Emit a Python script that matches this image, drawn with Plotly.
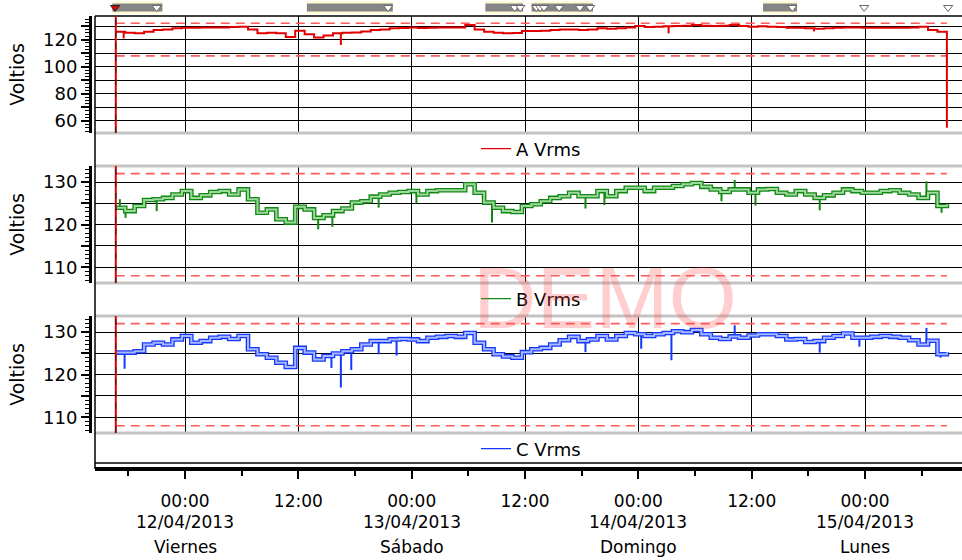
import pandas as pd
import plotly.graph_objects as go

# ---------------- data ----------------
times = list(pd.date_range("2013-04-11 16:40", periods=88, freq="h")) + [pd.Timestamp("2013-04-15 08:40")]

a_vrms = [125.8, 125.0, 124.6, 125.8, 127.0, 127.5, 128.3, 128.8, 128.8, 129.0,
          129.0, 129.0, 129.3, 129.5, 127.5, 124.6, 125.0, 124.6, 122.0, 126.5,
          124.0, 121.6, 123.0, 124.6, 125.0, 125.3, 126.0, 127.0, 127.5, 128.3,
          128.6, 129.0, 128.5, 128.8, 129.0, 129.0, 129.0, 130.7, 127.5, 125.8,
          125.0, 124.6, 124.8, 126.3, 126.3, 126.5, 127.0, 127.5, 127.5, 127.0,
          127.5, 128.3, 128.0, 128.3, 129.0, 130.0, 129.3, 129.5, 129.8, 130.0,
          130.3, 130.7, 130.2, 130.0, 130.2, 130.7, 130.0, 129.5, 129.8, 129.5,
          129.2, 128.8, 128.8, 128.3, 128.0, 128.3, 128.8, 129.0, 129.0, 128.8,
          128.8, 128.8, 128.8, 128.8, 129.0, 129.5, 127.0, 125.8, 55.0]

b_vrms = [124.0, 123.2, 124.4, 125.8, 126.0, 126.3, 127.1, 127.9, 126.3, 126.9,
          127.7, 127.9, 127.1, 128.3, 126.0, 122.8, 123.6, 121.3, 120.5, 124.2,
          123.6, 121.6, 122.2, 123.2, 123.8, 125.2, 125.5, 126.6, 127.1, 127.5,
          127.7, 127.9, 127.1, 127.9, 128.1, 128.1, 128.1, 129.5, 127.5, 125.2,
          124.0, 123.2, 123.0, 124.4, 124.8, 125.5, 126.3, 126.7, 127.5, 126.7,
          126.7, 127.9, 126.7, 127.9, 128.7, 128.7, 127.9, 128.7, 128.7, 129.1,
          129.5, 129.8, 128.9, 128.3, 127.7, 128.3, 128.3, 127.5, 128.3, 128.4,
          127.5, 127.1, 127.9, 127.1, 126.3, 126.9, 127.5, 128.3, 127.9, 127.5,
          127.5, 127.9, 128.1, 127.5, 127.1, 126.3, 127.5, 124.4, 124.8]

c_vrms = [125.2, 125.2, 125.5, 127.1, 127.5, 127.1, 128.3, 129.1, 127.5, 127.9,
          128.7, 128.9, 128.4, 129.1, 126.0, 124.8, 124.0, 122.8, 121.8, 126.3,
          125.2, 123.6, 124.4, 125.0, 125.5, 126.0, 127.1, 127.9, 127.9, 128.3,
          128.4, 128.3, 127.9, 128.7, 128.9, 129.1, 128.9, 129.8, 127.5, 126.0,
          124.8, 124.3, 124.0, 125.3, 126.0, 126.3, 127.1, 128.1, 128.9, 127.9,
          128.3, 129.1, 128.3, 129.1, 129.8, 129.5, 129.1, 129.5, 129.8, 130.2,
          130.0, 130.5, 129.5, 128.7, 128.4, 129.0, 128.7, 129.2, 129.5, 129.5,
          129.1, 128.3, 128.4, 127.7, 127.9, 128.7, 129.1, 129.7, 128.7, 128.7,
          128.9, 129.1, 128.9, 128.7, 128.1, 127.1, 128.0, 124.8, 125.3]

a_spike_t = ["2013-04-11 17:30", "2013-04-12 16:30", "2013-04-14 03:12", "2013-04-14 18:36"]
a_spike_v = [120.9, 116.0, 124.6, 126.0]

b_spike_t = ["2013-04-11 17:06", "2013-04-11 17:42", "2013-04-11 21:00", "2013-04-12 14:06",
             "2013-04-12 15:36", "2013-04-12 20:30", "2013-04-13 00:30", "2013-04-13 08:30",
             "2013-04-13 18:24", "2013-04-13 20:24", "2013-04-14 08:48", "2013-04-14 10:12",
             "2013-04-14 12:24", "2013-04-14 19:12", "2013-04-15 06:30", "2013-04-15 08:06"]
b_spike_v = [126.0, 121.6, 123.2, 118.9, 119.5, 124.0, 125.0, 120.5,
             123.8, 124.6, 125.5, 130.5, 124.5, 123.4, 130.2, 122.8]

c_spike_t = ["2013-04-11 17:36", "2013-04-12 15:30", "2013-04-12 16:30", "2013-04-12 17:36",
             "2013-04-12 20:30", "2013-04-12 22:24", "2013-04-13 18:24", "2013-04-14 00:18",
             "2013-04-14 03:30", "2013-04-14 10:12", "2013-04-14 19:12", "2013-04-14 23:24",
             "2013-04-15 06:30", "2013-04-15 08:00"]
c_spike_v = [121.4, 121.6, 117.0, 121.1, 124.8, 124.5, 125.3, 126.1,
             123.4, 131.6, 125.2, 126.6, 131.0, 124.0]

limit_high = 132
limit_low = 108

event_start = ["2013-04-11 16:18", "2013-04-12 12:54", "2013-04-13 07:48", "2013-04-13 12:42", "2013-04-14 13:12"]
event_end = ["2013-04-11 21:36", "2013-04-12 22:00", "2013-04-13 11:48", "2013-04-13 19:12", "2013-04-14 16:48"]
flag_times = ["2013-04-11 21:00", "2013-04-12 21:30", "2013-04-13 10:54", "2013-04-13 11:30",
              "2013-04-13 13:12", "2013-04-13 13:36", "2013-04-13 14:00", "2013-04-13 15:36",
              "2013-04-13 17:48", "2013-04-13 18:54", "2013-04-14 16:18", "2013-04-14 23:54",
              "2013-04-15 08:48"]
first_flag = ["2013-04-11 16:36"]

day_ticks = ["2013-04-12", "2013-04-13", "2013-04-14", "2013-04-15"]
day_dates = ["12/04/2013", "13/04/2013", "14/04/2013", "15/04/2013"]
day_names = ["Viernes", "Sábado", "Domingo", "Lunes"]

x_range = ["2013-04-11 14:28", "2013-04-15 10:16"]

# ---------------- helpers ----------------
W, H = 962, 560
def py(p):
    return 1 - p / H
def px(p):
    return p / W

FONT = "DejaVu Sans"

def spike_xy(st, sv, series):
    xs, ys = [], []
    for t, v in zip(st, sv):
        tt = pd.Timestamp(t)
        idx = max(i for i, T in enumerate(times) if T <= tt)
        xs += [tt, tt, None]
        ys += [series[idx], v, None]
    return xs, ys

fig = go.Figure()

panels = [
    ("A Vrms", a_vrms, a_spike_t, a_spike_v, "#e00000", None, "x", "y", "legend"),
    ("B Vrms", b_vrms, b_spike_t, b_spike_v, "#118811", "#9fd89f", "x2", "y2", "legend2"),
    ("C Vrms", c_vrms, c_spike_t, c_spike_v, "#1438ff", "#a8b8ff", "x3", "y3", "legend3"),
]

for name, vals, st, sv, col, light, xa, ya, lg in panels:
    for lim in (limit_high, limit_low):
        fig.add_trace(go.Scatter(x=[times[0], times[-1]], y=[lim, lim], mode="lines",
                                 line=dict(color="#ff5a5a", width=1.6, dash="9px,6px"),
                                 showlegend=False, hoverinfo="skip", xaxis=xa, yaxis=ya))
    sx, sy = spike_xy(st, sv, vals)
    if light is None:
        fig.add_trace(go.Scatter(x=times, y=vals, mode="lines", line=dict(color=col, width=2, shape="hv"),
                                 showlegend=False, xaxis=xa, yaxis=ya))
        fig.add_trace(go.Scatter(x=sx, y=sy, mode="lines", line=dict(color=col, width=2),
                                 showlegend=False, xaxis=xa, yaxis=ya))
    else:
        fig.add_trace(go.Scatter(x=times, y=vals, mode="lines", line=dict(color=col, width=4.6, shape="hv"),
                                 showlegend=False, xaxis=xa, yaxis=ya))
        fig.add_trace(go.Scatter(x=sx, y=sy, mode="lines", line=dict(color=col, width=2),
                                 showlegend=False, xaxis=xa, yaxis=ya))
        fig.add_trace(go.Scatter(x=times, y=vals, mode="lines", line=dict(color=light, width=2.0, shape="hv"),
                                 showlegend=False, xaxis=xa, yaxis=ya))
    fig.add_trace(go.Scatter(x=[None], y=[None], mode="lines", name=name,
                             line=dict(color=col, width=1.2), legend=lg, xaxis=xa, yaxis=ya))

# event strip
ev_x = sum([[s, e, None] for s, e in zip(event_start, event_end)], [])
ev_y = sum([[0.5, 0.5, None] for _ in event_start], [])
fig.add_trace(go.Scatter(x=ev_x, y=ev_y, mode="lines", line=dict(color="#fffbd2", width=13),
                         showlegend=False, hoverinfo="skip", xaxis="x4", yaxis="y4"))
fig.add_trace(go.Scatter(x=ev_x, y=ev_y, mode="lines", line=dict(color="#858585", width=8),
                         showlegend=False, hoverinfo="skip", xaxis="x4", yaxis="y4"))
fig.add_trace(go.Scatter(x=flag_times, y=[0.5] * len(flag_times), mode="markers",
                         marker=dict(symbol="triangle-down", size=8, color="white",
                                     line=dict(color="#6a6a6a", width=1)),
                         showlegend=False, xaxis="x4", yaxis="y4"))
fig.add_trace(go.Scatter(x=first_flag, y=[0.5], mode="markers",
                         marker=dict(symbol="triangle-down", size=8, color="#e00000",
                                     line=dict(color="#222222", width=1)),
                         showlegend=False, xaxis="x4", yaxis="y4"))

xdom = [px(95), 1]
common_x = dict(domain=xdom, range=x_range, type="date", showgrid=True, gridcolor="#000000",
                gridwidth=1.3, dtick=43200000, tick0="2013-04-12 00:00", zeroline=False,
                showline=False)

fig.update_layout(
    width=W, height=H, margin=dict(l=0, r=0, t=0, b=0),
    paper_bgcolor="white", plot_bgcolor="white",
    font=dict(family=FONT, size=17, color="black"),
    xaxis=dict(**common_x, anchor="y", showticklabels=False, ticks=""),
    xaxis2=dict(**common_x, anchor="y2", matches="x", showticklabels=False, ticks=""),
    xaxis3=dict(**common_x, anchor="free", position=py(469), matches="x", showticklabels=True,
                ticks="outside", ticklen=8, tickwidth=1.5, tickcolor="black",
                minor=dict(dtick=21600000, tick0="2013-04-12 00:00", ticks="outside", ticklen=5,
                           tickcolor="black", tickwidth=1.5, showgrid=False),
                tickformat="%H:%M", tickfont=dict(family=FONT, size=17, color="black"),
                ticklabelstandoff=8, linecolor="black"),
    xaxis4=dict(domain=xdom, range=x_range, type="date", anchor="y4", visible=False, matches="x"),
    yaxis4=dict(domain=[py(15), 1], range=[0, 1], visible=False, anchor="x4"),
)
fig.update_layout(xaxis3=dict(showline=True, linewidth=3.5))

def yax(dom, rng, tv, tt, minor_dt):
    return dict(domain=dom, range=rng, anchor="free", position=px(90), showline=True, linewidth=3,
                linecolor="black", ticks="outside", ticklen=8, tickwidth=2, tickcolor="black",
                tickvals=tv, ticktext=tt, showgrid=True, gridcolor="#000000", gridwidth=1.3,
                zeroline=False, tickfont=dict(family=FONT, size=18, color="black"),
                minor=dict(tickmode="linear", dtick=minor_dt, tick0=0, ticks="outside", ticklen=4,
                           tickwidth=1.2, tickcolor="black", showgrid=False),
                title=dict(text="Voltios", font=dict(family=FONT, size=19, color="black"), standoff=12))

fig.update_layout(
    yaxis=yax([py(133), py(16)], [51.1, 137.4], [60, 70, 80, 90, 100, 110, 120, 130],
              ["60", "", "80", "", "100", "", "120", ""], 2.5),
    yaxis2=yax([py(283), py(166)], [106.3, 133.8], [110, 115, 120, 125, 130],
               ["110", "", "120", "", "130"], 1),
    yaxis3=yax([py(433), py(316)], [106.3, 133.8], [110, 115, 120, 125, 130],
               ["110", "", "120", "", "130"], 1),
)

for lg, yc in (("legend", 149), ("legend2", 299), ("legend3", 449)):
    fig.update_layout({lg: dict(x=px(476), xanchor="left", y=py(yc), yanchor="middle",
                                orientation="h", bgcolor="rgba(0,0,0,0)", borderwidth=0,
                                font=dict(family=FONT, size=18, color="black"))})

shapes = []
for yy in (133, 166, 283, 316, 433):
    shapes.append(dict(type="line", xref="paper", yref="paper", x0=px(95), x1=1, y0=py(yy), y1=py(yy),
                       line=dict(color="#c4c4c4", width=3)))
shapes.append(dict(type="line", xref="paper", yref="paper", x0=px(95), x1=1, y0=py(16), y1=py(16),
                   line=dict(color="black", width=1.5)))
shapes.append(dict(type="line", xref="paper", yref="paper", x0=px(95), x1=1, y0=py(463), y1=py(463),
                   line=dict(color="black", width=1.5)))
shapes.append(dict(type="line", xref="paper", yref="paper", x0=px(95), x1=px(95), y0=py(16), y1=py(469),
                   line=dict(color="black", width=1.5)))
for yr in ("y domain", "y2 domain", "y3 domain"):
    shapes.append(dict(type="line", xref="x", yref=yr, x0=times[0], x1=times[0], y0=0, y1=1,
                       line=dict(color="#e00000", width=2)))
    shapes.append(dict(type="line", xref="x", yref=yr, x0=times[0], x1=times[0], y0=0, y1=1,
                       line=dict(color="#222222", width=1, dash="6px,6px")))
fig.update_layout(shapes=shapes)

ann = []
for d, ds, dn in zip(day_ticks, day_dates, day_names):
    ann.append(dict(x=d, xref="x3", y=py(522), yref="paper", text=ds, showarrow=False,
                    font=dict(family=FONT, size=17, color="black"), yanchor="middle"))
    ann.append(dict(x=d, xref="x3", y=py(547), yref="paper", text=dn, showarrow=False,
                    font=dict(family=FONT, size=17, color="black"), yanchor="middle"))
ann.append(dict(x=px(605), y=py(297), xref="paper", yref="paper", text="DEMO", showarrow=False,
                font=dict(family="Liberation Sans", size=88, color="rgba(255,70,70,0.26)")))
fig.update_layout(annotations=ann)

fig.write_html("out.html", config={"displayModeBar": False},
               post_script="document.body.style.margin='0';document.body.style.padding='0';")
